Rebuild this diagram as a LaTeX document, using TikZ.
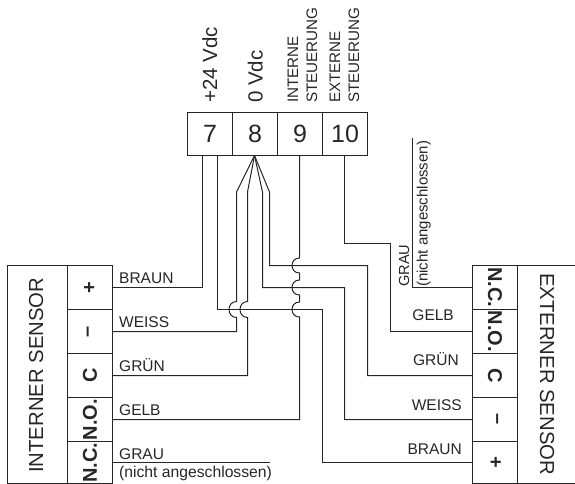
\documentclass[tikz,border=0pt]{standalone}
\usepackage{fontspec}
\setmainfont{Liberation Sans}
\newcommand{\fs}[1]{\fontsize{#1}{#1}\selectfont}
\tikzset{
  wire/.style={draw=black!85,line width=1pt,line join=miter},
  terminal/.style={draw=black!85,line width=1pt,minimum width=45pt,minimum height=43pt,inner sep=0pt,font=\fs{25},text=black!85},
  cellL/.style={draw=black!85,line width=1pt,minimum width=44pt,minimum height=45pt,inner sep=0pt,rotate=90,font=\fs{20}\bfseries,text=black!85},
  cellR/.style={draw=black!85,line width=1pt,minimum width=44pt,minimum height=45pt,inner sep=0pt,rotate=-90,font=\fs{20}\bfseries,text=black!85},
  wl/.style={inner sep=0pt,font=\fs{15.5},text=black!85,anchor=base west},
  wr/.style={inner sep=0pt,font=\fs{15.5},text=black!85,anchor=base east},
  vl/.style={inner sep=0pt,text=black!85,anchor=base west,rotate=90},
}
\begin{document}
\begin{tikzpicture}[x=1pt,y=-1pt]
\useasboundingbox (0,0) rectangle (575,484);
% terminals
\node[terminal] (t7) at (210,134) {7};
\node[terminal] (t8) at (255,134) {8};
\node[terminal] (t9) at (300,134) {9};
\node[terminal] (t10) at (345,134) {10};
% top labels
\node[vl,font=\fs{20.5}] (l24) at (217,103) {+24 Vdc};
\node[vl,font=\fs{20.5}] (l0) at (262.7,103) {0 Vdc};
\node[vl,font=\fs{15.2}] (li1) at (298,103) {INTERNE};
\node[vl,font=\fs{15.2}] (li2) at (317,103) {STEUERUNG};
\node[vl,font=\fs{15.2}] (le1) at (340,103) {EXTERNE};
\node[vl,font=\fs{15.2}] (le2) at (359,103) {STEUERUNG};
% internal sensor
\node[draw=black!85,line width=1pt,minimum width=60pt,minimum height=218pt,inner sep=0pt] (intbox) at (37.5,374.5) {};
\node[vl,font=\fs{20.3}] (intname) at (43,473) {INTERNER SENSOR};
\node[cellL] (ip) at (90,287.5) {+};
\node[cellL] (im) at (90,331.5) {--};
\node[cellL] (ic) at (90,375.5) {C};
\node[cellL] (ino) at (90,419.5) {N.O.};
\node[cellL,minimum width=42pt] (inc) at (90,462.5) {N.C.};
% external sensor
\node[cellR] (enc) at (495,287.5) {N.C.};
\node[cellR] (eno) at (495,331.5) {N.O.};
\node[cellR] (ec) at (495,375.5) {C};
\node[cellR] (em) at (495,419.5) {--};
\node[cellR,minimum width=42pt] (ep) at (495,462.5) {+};
\coordinate (etl) at (517.5,265.5);
\coordinate (etr) at (575,265.5);
\coordinate (ebl) at (517.5,483.5);
\coordinate (ebr) at (575,483.5);
\draw[wire] (etl) -- (etr) (ebl) -- (ebr);
\node[inner sep=0pt,text=black!85,anchor=base west,rotate=-90,font=\fs{20.3}] (extname) at (540,273) {EXTERNER SENSOR};
% wire coordinates
\coordinate (a) at (254.5,155.5);
\coordinate (f1) at (236.5,192);
\coordinate (f2) at (247.5,192);
\coordinate (f3) at (262.5,192);
\coordinate (f4) at (269.5,192);
% 7 -> braun
\draw[wire] (202.5,155.5) -- (202.5,287.5) -- (ip.south);
\draw[wire] (217.5,155.5) -- (217.5,309.5) -- (322.5,309.5) -- (322.5,462.5) -- (ep.south);
% 8 fan
\draw[wire] (a) -- (f1) -- (236.5,301.5) .. controls (226.5,301.5) and (226.5,317.5) .. (236.5,317.5) -- (236.5,331.5) -- (im.south);
\draw[wire] (a) -- (f2) -- (247.5,301.5) .. controls (237.5,301.5) and (237.5,317.5) .. (247.5,317.5) -- (247.5,375.5) -- (ic.south);
\draw[wire] (a) -- (f3) -- (262.5,287.5) -- (344.5,287.5) -- (344.5,419.5) -- (em.south);
\draw[wire] (a) -- (f4) -- (269.5,265.5) -- (367.5,265.5) -- (367.5,375.5) -- (ec.south);
% 9
\draw[wire] (299.5,155.5) -- (299.5,258) .. controls (289.5,258) and (289.5,273) .. (299.5,273)
  -- (299.5,280) .. controls (289.5,280) and (289.5,295) .. (299.5,295)
  -- (299.5,302) .. controls (289.5,302) and (289.5,317) .. (299.5,317)
  -- (299.5,419.5) -- (ino.south);
% 10
\draw[wire] (344.5,155.5) -- (344.5,243.5) -- (390.5,243.5) -- (390.5,331.5) -- (eno.south);
% grau
\coordinate (gtop) at (412.5,138);
\draw[wire] (gtop) -- (412.5,287.5) -- (enc.south);
\coordinate (gl) at (270,462.5);
\draw[wire] (inc.south) -- (gl);
% labels
\node[wl] (b1) at (119,283) {BRAUN};
\node[wl] (b2) at (119,327) {WEISS};
\node[wl] (b3) at (119,371) {GRÜN};
\node[wl] (b4) at (119,415) {GELB};
\node[wl] (b5) at (119,459) {GRAU};
\node[wl,font=\fs{15.7}] (b6) at (119,477) {(nicht angeschlossen)};
\node[wr] (c1) at (454,320) {GELB};
\node[wr] (c2) at (459,365) {GRÜN};
\node[wr] (c3) at (462,410) {WEISS};
\node[wr] (c4) at (462,454) {BRAUN};
\node[vl,font=\fs{14.6}] (c5) at (409,287) {GRAU};
\node[vl,font=\fs{15}] (c6) at (427.5,287) {(nicht angeschlossen)};
\end{tikzpicture}
\end{document}
